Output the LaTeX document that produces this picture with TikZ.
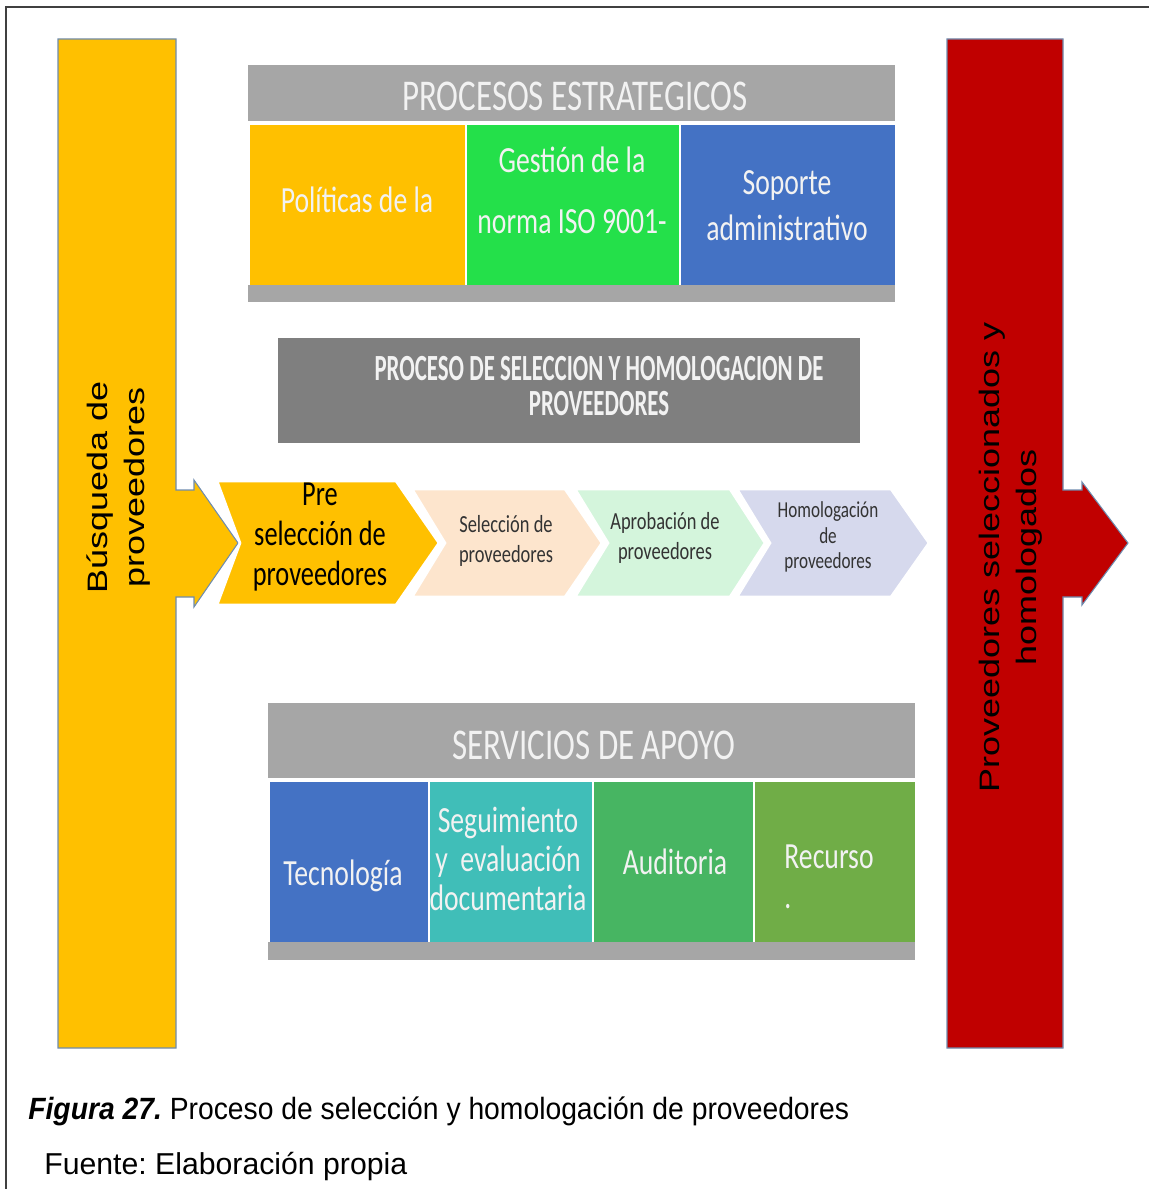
\documentclass[tikz,border=0pt]{standalone}
\usepackage{fontspec}
\setmainfont{Liberation Sans}
\newfontfamily\calibri[FakeStretch=0.75]{Carlito}
\newfontfamily\calibrin[FakeStretch=0.62]{Carlito}
\newfontfamily\arialw[FakeStretch=1.28]{Liberation Sans}
\newfontfamily\arialn[FakeStretch=0.92]{Liberation Sans}
\usepackage{tikz}
\frenchspacing

\definecolor{amarillo}{RGB}{255,192,0}
\definecolor{rojo}{RGB}{192,0,0}
\definecolor{grisclaro}{RGB}{166,166,166}
\definecolor{grisoscuro}{RGB}{127,127,127}
\definecolor{verdevivo}{RGB}{36,224,74}
\definecolor{azul}{RGB}{68,114,196}
\definecolor{turquesa}{RGB}{64,190,184}
\definecolor{verdemedio}{RGB}{71,181,98}
\definecolor{verdeoliva}{RGB}{112,173,71}
\definecolor{durazno}{RGB}{253,229,205}
\definecolor{menta}{RGB}{212,245,220}
\definecolor{lavanda}{RGB}{214,217,237}
\definecolor{borde}{RGB}{110,140,175}
\definecolor{blanco}{RGB}{242,242,242}

\tikzset{
    barra/.style={draw=borde, line width=0.6pt},
    chevron/.style={draw=white, line width=1.5pt},
    titulo/.style={text=blanco, font=\calibri\fontsize{25}{30}\selectfont},
    celda/.style={text=blanco, align=center, font=\calibri\fontsize{21}{26}\selectfont},
    paso/.style={align=center, text=black!80, font=\calibri\fontsize{14}{17}\selectfont},
    vertical/.style={rotate=90, align=center, font=\arialw\fontsize{16}{21}\selectfont}
}

\begin{document}
\begin{tikzpicture}[x=0.02cm, y=-0.02cm]
            \useasboundingbox (0,0) rectangle (1149,1189);
            % Marco
            \draw[black!75, line width=1.1pt] (6,1189) -- (6,7) -- (1149,7);
            
            % Busqueda de proveedores
            \filldraw[barra, fill=amarillo] (58,39) -- (176,39) -- (176,490) -- (194,490) -- (194,480) -- (238,543)
                -- (194,607) -- (194,597) -- (176,597) -- (176,1048) -- (58,1048) -- cycle;
            \node[vertical] (busqueda) at (119,487) {Búsqueda de\\proveedores};
            
            % Proveedores seleccionados
            \filldraw[barra, fill=rojo] (947,39) -- (1063,39) -- (1063,490) -- (1082,490) -- (1082,482) -- (1128,543)
                -- (1082,605) -- (1082,597) -- (1063,597) -- (1063,1048) -- (947,1048) -- cycle;
            \node[vertical] (seleccionados) at (1011,557) {Proveedores seleccionados y\\homologados};
            
            % Procesos estrategicos
            \fill[grisclaro] (248,65) rectangle (895,121);
            \node[titulo] (estrategicos) at (575,96) {PROCESOS ESTRATEGICOS};
            \fill[grisclaro] (248,285) rectangle (895,302);
            \fill[amarillo] (250,125) rectangle (465,285);
            \fill[verdevivo] (467,125) rectangle (679,285);
            \fill[azul] (681,125) rectangle (895,285);
            \node[celda] (politicas) at (357,200) {Políticas de la};
            \node[celda, font=\calibri\fontsize{21}{34.6}\selectfont] (gestion) at (572,190) {Gestión de la\\norma ISO 9001-};
            \node[celda] (soporte) at (787,206) {Soporte\\administrativo};
            
            % Proceso de seleccion
            \fill[grisoscuro] (278,338) rectangle (860,443);
            \node[text=blanco, align=center, font=\calibrin\bfseries\fontsize{21}{20.4}\selectfont] (proceso) at (599,386)
                {PROCESO DE SELECCION Y HOMOLOGACION DE\\PROVEEDORES};
            
            % Pasos
            \filldraw[chevron, fill=amarillo] (217,481) -- (396,481) -- (439,543) -- (396,605) -- (217,605) -- (240,543) -- cycle;
            \filldraw[chevron, fill=durazno] (412,489) -- (565,489) -- (602,543) -- (565,597) -- (412,597) -- (445,543) -- cycle;
            \filldraw[chevron, fill=menta] (575,489) -- (730,489) -- (765,543) -- (730,597) -- (575,597) -- (608,543) -- cycle;
            \filldraw[chevron, fill=lavanda] (737,489) -- (891,489) -- (929,543) -- (891,597) -- (737,597) -- (770,543) -- cycle;
            \node[paso, text=black, font=\calibri\fontsize{20}{22.7}\selectfont] (preseleccion) at (320,537) {Pre\\selección de\\proveedores};
            \node[paso] (seleccion) at (506,541) {Selección de\\proveedores};
            \node[paso] (aprobacion) at (665,538) {Aprobación de\\proveedores};
            \node[paso, font=\calibri\fontsize{13}{14.7}\selectfont] (homologacion) at (828,537) {Homologación\\de\\proveedores};
            
            % Servicios de apoyo
            \fill[grisclaro] (268,703) rectangle (915,778);
            \node[titulo] (servicios) at (594,745) {SERVICIOS DE APOYO};
            \fill[grisclaro] (268,942) rectangle (915,960);
            \fill[azul] (270,782) rectangle (428,942);
            \fill[turquesa] (430,782) rectangle (592,942);
            \fill[verdemedio] (594,782) rectangle (753,942);
            \fill[verdeoliva] (755,782) rectangle (915,942);
            \node[celda] (tecnologia) at (343,876) {Tecnología};
            \node[celda, font=\calibri\fontsize{21}{22}\selectfont] (seguimiento) at (508,859) {Seguimiento\\y\ \ evaluación\\documentaria};
            \node[celda] (auditoria) at (675,862) {Auditoria};
            \node[celda, align=left, font=\calibri\fontsize{21}{23}\selectfont] (recurso) at (829,877) {Recurso\\.};
            
            % Leyenda
            \node[anchor=base west, inner sep=0pt, font=\arialn\fontsize{17.5}{21}\selectfont] (figura) at (28,1119)
                {\textbf{\textit{Figura 27.}} Proceso de selección y homologación de proveedores};
            \node[anchor=base west, inner sep=0pt, font=\fontsize{17.2}{21}\selectfont] (fuente) at (44,1174)
                {Fuente: Elaboración propia};
\end{tikzpicture}
\end{document}
